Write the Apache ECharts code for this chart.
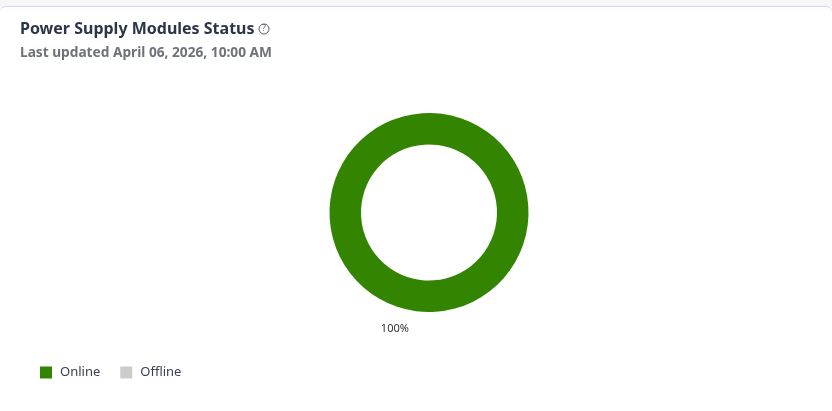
<!DOCTYPE html>
<html><head><meta charset="utf-8">
<style>
html,body{margin:0;padding:0;background:#f7f7f7;width:832px;height:411px;overflow:hidden}
#card{position:absolute;left:0;top:6px;width:832px;height:420px;background:#fff;border-top:1px solid #cdd6e8;border-radius:6px 6px 0 0;box-sizing:border-box}
#chart{position:absolute;left:0;top:0;width:832px;height:411px}
</style></head><body>
<div id="card"></div><div id="chart"></div>
<script src="https://cdn.jsdelivr.net/npm/echarts@6/dist/echarts.min.js"></script>
<script>
const categories=["Online","Offline"];
const values=[100,0];
const colors=["#338400","#cccccc"];
const titleText="Power Supply Modules Status";
const subtitleText="Last updated April 06, 2026, 10:00 AM";
const font='"Noto Sans"';
const chart=echarts.init(document.getElementById('chart'));
chart.setOption({
  animation:false,
  title:{left:15,top:16,text:titleText,subtext:subtitleText,itemGap:9,
    textStyle:{fontFamily:font,fontSize:16,fontWeight:'bold',color:'#2b3448'},
    subtextStyle:{fontFamily:font,fontSize:13.7,fontWeight:'bold',color:'#6f7278'}},
  legend:{left:35,top:361,itemWidth:12,itemHeight:12,itemGap:20,icon:'rect',
    data:categories,selectedMode:false,
    textStyle:{fontFamily:font,fontSize:13,color:'#3a4152',padding:[1,0,0,3]}},
  graphic:[
    {type:'circle',shape:{cx:264,cy:29,r:5},style:{fill:'none',stroke:'#555b68',lineWidth:1}},
    {type:'text',x:264,y:29,style:{text:'?',fontFamily:font,fontSize:8,fill:'#555b68',align:'center',verticalAlign:'middle'}}
  ],
  series:[{type:'pie',center:[429,212.5],radius:[68,99.5],startAngle:82.6,
    minShowLabelAngle:0.01,silent:true,
    label:{show:true,position:'outer',formatter:p=>p.value>0?p.percent+'%':'',
      fontFamily:font,fontSize:11,color:'#333333'},
    labelLine:{show:false,length:18,length2:0},
    data:categories.map((c,i)=>({name:c,value:values[i],itemStyle:{color:colors[i]}}))}]
});
</script></body></html>
